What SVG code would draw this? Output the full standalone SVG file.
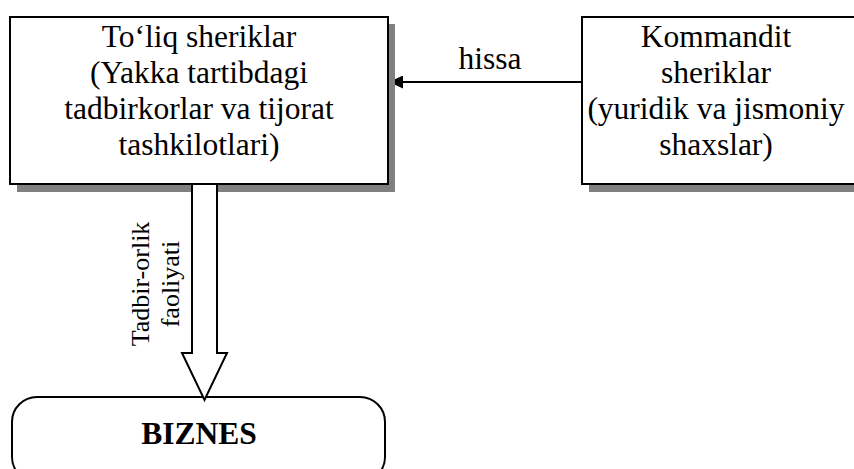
<svg xmlns="http://www.w3.org/2000/svg" width="854" height="469" viewBox="0 0 854 469">
<defs>
<style>
.box{fill:#fff;stroke:#000;stroke-width:2}
.shadow{fill:#808080}
</style>
<marker id="ah" markerWidth="14" markerHeight="13" refX="14" refY="6.5" orient="auto" markerUnits="userSpaceOnUse">
<path d="M0,0 L14,6.5 L0,13 Z" fill="#000"/>
</marker>
</defs>
<rect width="854" height="469" fill="#fff"/>
<g font-family="'Liberation Serif', 'Times New Roman', serif" fill="#000" text-anchor="middle" font-size="31.5">
<g id="connectors">
<line x1="582" y1="82" x2="389" y2="82" stroke="#000" stroke-width="2" marker-end="url(#ah)"/>
<text x="490" y="69">hissa</text>
</g>
<g id="toliq">
<rect class="shadow" x="17" y="24" width="378" height="168"/>
<rect class="box" x="10" y="17" width="378" height="167"/>
<text x="199" y="47">To‘liq sheriklar</text>
<text x="199" y="83">(Yakka tartibdagi</text>
<text x="199" y="119">tadbirkorlar va tijorat</text>
<text x="199" y="155">tashkilotlari)</text>
</g>
<g id="kommandit">
<rect class="shadow" x="589" y="24" width="280" height="168"/>
<rect class="box" x="582" y="17" width="280" height="167"/>
<text x="716" y="47">Kommandit</text>
<text x="716" y="83">sheriklar</text>
<text x="716" y="119">(yuridik va jismoniy</text>
<text x="716" y="155">shaxslar)</text>
</g>
<g id="biznes">
<rect class="box" x="12" y="397" width="373" height="85" rx="25" ry="25"/>
<text x="199" y="444" font-size="31.5" font-weight="bold">BIZNES</text>
</g>
<g id="block-arrow">
<path d="M192,184 L217,184 L217,353 L227,353 L204.5,400 L182,353 L192,353 Z" fill="#fff" stroke="#000" stroke-width="2"/>
<text font-size="26" transform="translate(149,284) rotate(-90)">Tadbir-orlik</text>
<text font-size="26" transform="translate(179,284) rotate(-90)">faoliyati</text>
</g>
</g>
</svg>
